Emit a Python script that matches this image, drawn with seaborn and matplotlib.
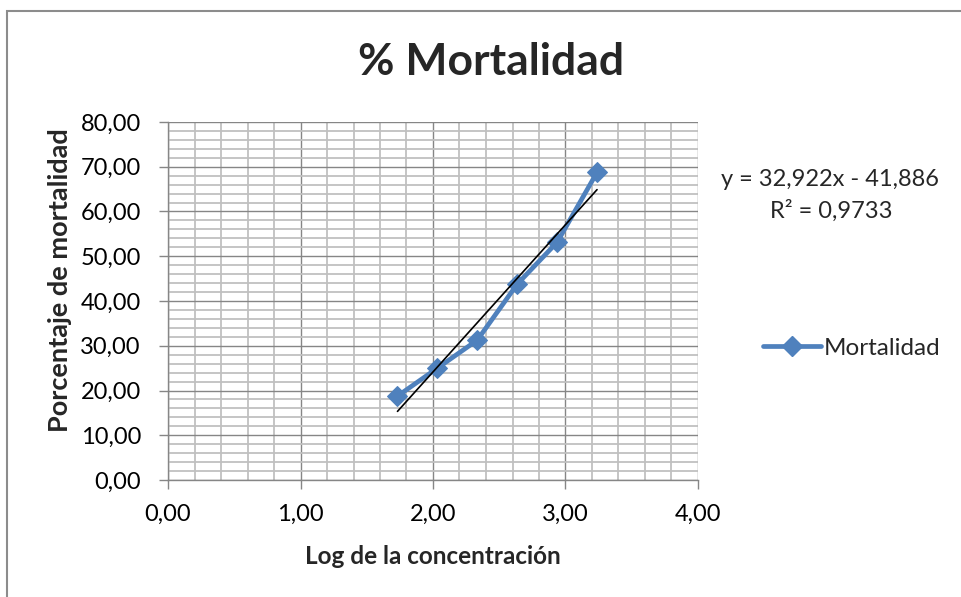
import matplotlib
matplotlib.use("Agg")
import matplotlib.pyplot as plt
import seaborn as sns
import pandas as pd
import numpy as np
from matplotlib.ticker import MultipleLocator, FuncFormatter
from matplotlib.patches import Rectangle
from matplotlib.lines import Line2D

log_conc = [1.732, 2.033, 2.334, 2.635, 2.937, 3.238]
mortality = [18.75, 25.00, 31.25, 43.75, 53.13, 68.75]
series_name = "Mortalidad"
title = "% Mortalidad"
x_label = "Log de la concentración"
y_label = "Porcentaje de mortalidad"
equation_text = "y = 32,922x - 41,886"
r2_text = "R² = 0,9733"

sns.set_theme(style="white")
plt.rcParams['font.family'] = ['Lato', 'DejaVu Sans']

df = pd.DataFrame({"x": log_conc, "y": mortality})

fig = plt.figure(figsize=(9.62, 5.97), dpi=100)
ax = fig.add_axes([168/962, 1-480/597, (698-168)/962, (480-122)/597])

blue = "#4F81BD"
major_c = "#868686"
minor_c = "#C0C0C0"

ax.set_xlim(0, 4)
ax.set_ylim(0, 80)
ax.xaxis.set_major_locator(MultipleLocator(1))
ax.xaxis.set_minor_locator(MultipleLocator(0.2))
ax.yaxis.set_major_locator(MultipleLocator(10))
ax.yaxis.set_minor_locator(MultipleLocator(2))
ax.grid(which="minor", color=minor_c, linewidth=1.3, zorder=0)
ax.grid(which="major", color=major_c, linewidth=1.0, zorder=0)
ax.set_axisbelow(True)

fmt = FuncFormatter(lambda v, p: f"{v:.2f}".replace(".", ","))
ax.xaxis.set_major_formatter(fmt)
ax.yaxis.set_major_formatter(fmt)

sns.lineplot(data=df, x="x", y="y", ax=ax, color=blue, linewidth=3.4,
             marker="D", markersize=10.5, markeredgecolor=blue, zorder=3,
             label=series_name, legend=False)
sns.regplot(data=df, x="x", y="y", ax=ax, scatter=False, ci=None,
            truncate=True, line_kws=dict(color="black", linewidth=1.2, zorder=4))

for s in ["top", "right"]:
    ax.spines[s].set_visible(False)
for s in ["left", "bottom"]:
    ax.spines[s].set_color(major_c)
    ax.spines[s].set_linewidth(1.0)

ax.tick_params(axis="both", which="major", direction="out", length=6.5,
               width=1, color=major_c, labelsize=17, labelcolor="black",
               bottom=True, left=True)
ax.tick_params(axis="x", which="major", pad=11)
ax.tick_params(axis="y", which="major", pad=13)
ax.tick_params(axis="both", which="minor", length=0)

ax.set_xlabel("")
ax.set_ylabel("")
fig.text(433/962, 1-556/597, x_label, fontsize=17.5, fontweight="bold",
         ha="center", va="center")
fig.text(60/962, 1-280/597, y_label, fontsize=19.5, fontweight="bold",
         ha="center", va="center", rotation=90)

fig.text(491/962, 1-62/597, title, fontsize=32, fontweight="bold",
         ha="center", va="center")

fig.text(830/962, 1-180/597, equation_text, fontsize=17, ha="center", va="center")
fig.text(831/962, 1-211/597, r2_text, fontsize=17, ha="center", va="center")

handle = Line2D([], [], color=blue, linewidth=3.4, marker="D", markersize=10.5,
                markeredgecolor=blue)
fig.legend([handle], [series_name], loc="center left",
           bbox_to_anchor=(763/962, 1-348/597), frameon=False, fontsize=17.5,
           handlelength=2.4, handletextpad=0.1, borderaxespad=0, borderpad=0)

fig.patches.append(Rectangle((6.5/962, -0.2), 1.2, 1.2 - 10.5/597,
                             transform=fig.transFigure, fill=False,
                             edgecolor="#8C8C8C", linewidth=1.5, zorder=10))

fig.savefig("out.png", dpi=100, facecolor="white")
